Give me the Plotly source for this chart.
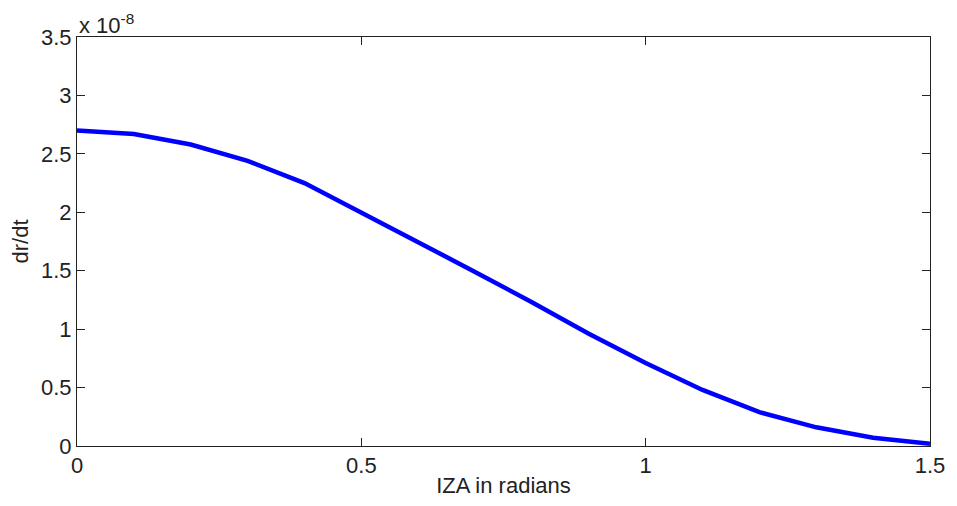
import plotly.graph_objects as go

# Data
iza = [0.0, 0.1, 0.2, 0.3, 0.4, 0.5, 0.6, 0.7, 0.8, 0.9, 1.0, 1.1, 1.2, 1.3, 1.4, 1.5]
drdt_e8 = [2.70, 2.67, 2.58, 2.44, 2.25, 2.00, 1.74, 1.49, 1.23, 0.96, 0.71, 0.48, 0.29, 0.16, 0.07, 0.02]
exponent = -8
drdt = [v * 10 ** exponent for v in drdt_e8]

x_ticks = [0, 0.5, 1, 1.5]
x_ticklabels = ["0", "0.5", "1", "1.5"]
y_ticks_e8 = [0, 0.5, 1, 1.5, 2, 2.5, 3, 3.5]
y_ticklabels = ["0", "0.5", "1", "1.5", "2", "2.5", "3", "3.5"]

FONT = "Liberation Sans, Arial, sans-serif"
FS = 22

fig = go.Figure()
fig.add_trace(go.Scatter(
    x=iza, y=drdt, mode="lines",
    line=dict(color="#0000ff", width=4.5),
    showlegend=False,
))

axis_common = dict(
    showline=True, linecolor="#222222", linewidth=1,
    mirror="ticks", ticks="inside", ticklen=8, tickcolor="#222222",
    showgrid=False, zeroline=False,
    tickfont=dict(family=FONT, size=FS, color="#222222"),
)

fig.update_layout(
    width=957, height=506,
    margin=dict(l=77, r=18, t=37, b=52),
    paper_bgcolor="white", plot_bgcolor="white",
    xaxis=dict(
        range=[0, 1.5], tickvals=x_ticks, ticktext=x_ticklabels,
        title=dict(text="IZA in radians", font=dict(family=FONT, size=FS, color="#222222"), standoff=0),
        **axis_common,
    ),
    yaxis=dict(
        range=[0, 3.5 * 10 ** exponent],
        tickvals=[t * 10 ** exponent for t in y_ticks_e8], ticktext=y_ticklabels,
        title=dict(text="dr/dt", font=dict(family=FONT, size=FS, color="#222222"), standoff=6),
        **axis_common,
    ),
    annotations=[dict(
        x=0, y=1, xref="paper", yref="paper", xanchor="left", yanchor="bottom",
        text="x 10<sup>-8</sup>", showarrow=False, xshift=0, yshift=-3,
        font=dict(family=FONT, size=FS, color="#222222"),
    )],
)

fig.write_html("out.html")
